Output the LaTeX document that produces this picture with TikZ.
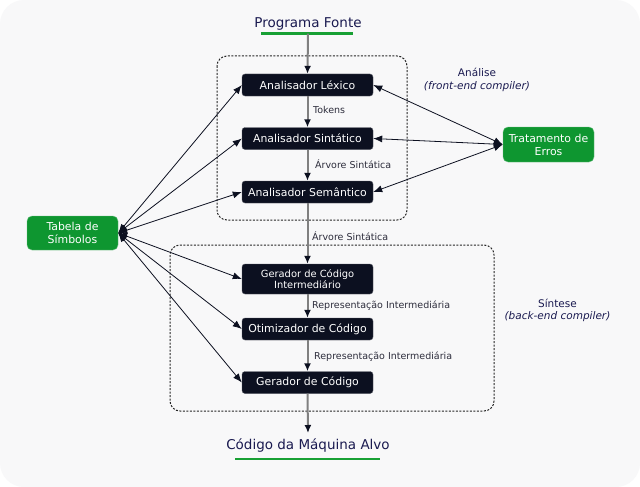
\documentclass[tikz,border=0pt]{standalone}
\usepackage{fontspec}
\setmainfont{DejaVu Sans}
\usetikzlibrary{arrows.meta}
\definecolor{boxdark}{RGB}{12,16,32}
\definecolor{grn}{RGB}{14,150,48}
\definecolor{ulgrn}{RGB}{24,160,52}
\definecolor{navy}{RGB}{26,26,80}
\definecolor{lblc}{RGB}{45,45,60}
\definecolor{bg}{RGB}{248,248,249}
\tikzset{
  stage/.style={fill=boxdark, draw=boxdark!70!white, line width=0.4pt, rounded corners=3pt, text=white,
    minimum width=131pt, minimum height=22pt, inner sep=0pt, font=\fontsize{10.9}{12}\selectfont, align=center},
  gbox/.style={fill=grn, draw=grn!60!white, line width=0.4pt, rounded corners=5pt, text=white,
    minimum width=91pt, minimum height=34pt, inner sep=0pt, font=\fontsize{10.9}{13}\selectfont, align=center},
  title/.style={text=navy, font=\fontsize{13.5}{15}\selectfont, inner xsep=0pt},
  lbl/.style={text=lblc, font=\fontsize{9.5}{11}\selectfont, inner sep=0pt, anchor=west},
  grp/.style={draw=black!85, line width=1pt, dash pattern=on 2pt off 1.5pt, rounded corners=10pt},
  varrow/.style={draw=black!50, line width=2pt, -{Latex[length=8pt,width=7pt,color=boxdark]}},
  link/.style={draw=boxdark, line width=0.8pt, {Latex[length=9pt,width=7pt]}-{Latex[length=9pt,width=7pt]}},
  ul/.style={draw=ulgrn, line width=2.6pt},
  side/.style={text=navy, font=\fontsize{10.5}{12.5}\selectfont, align=center}
}
\begin{document}
\begin{tikzpicture}[x=1pt,y=-1pt]
\useasboundingbox (0,0) rectangle (640,487);
\fill[white] (0,0) rectangle (640,487);
\fill[bg, rounded corners=24pt] (0,0) rectangle (640,487);

% groups
\draw[grp] (217,56) rectangle (407,220);
\draw[grp] (170,245) rectangle (494,411);

% nodes
\node[title, inner ysep=3pt] (pf) at (308,24) {Programa Fonte};
\node[stage] (lex) at (307.5,85) {Analisador Léxico};
\node[stage] (sin) at (307.5,138.5) {Analisador Sintático};
\node[stage] (sem) at (307.5,192) {Analisador Semântico};
\node[stage, minimum height=30pt, font=\fontsize{9.9}{11.5}\selectfont] (gci) at (307.5,279) {Gerador de Código\\Intermediário};
\node[stage] (oti) at (307.5,329) {Otimizador de Código};
\node[stage] (gc) at (307.5,382.5) {Gerador de Código};
\node[title, inner ysep=6pt] (cma) at (308,446) {Código da Máquina Alvo};
\node[gbox] (tab) at (72.5,233) {Tabela de\\Símbolos};
\node[gbox, minimum height=35pt] (err) at (548.5,144.5) {Tratamento de\\Erros};

% underlines
\draw[ul] ([xshift=7pt]pf.south west) -- ([xshift=-9pt]pf.south east);
\draw[ul] ([xshift=9pt]cma.south west) -- ([xshift=-10pt]cma.south east);

% side labels
\node[side] (ana) at (477,80) {Análise\\\textit{(front-end compiler)}};
\node[side] (sint) at (557.5,310.5) {Síntese\\\textit{(back-end compiler)}};

% main flow
\draw[varrow] (pf.south) -- (lex.north);
\draw[varrow] (lex.south) -- (sin.north);
\draw[varrow] (sin.south) -- (sem.north);
\draw[varrow] (sem.south) -- (gci.north);
\draw[varrow] (gci.south) -- (oti.north);
\draw[varrow] (oti.south) -- (gc.north);
\draw[varrow] (gc.south) -- (cma.north);

% flow labels
\node[lbl] (l1) at (313,110) {Tokens};
\node[lbl] (l2) at (315,164) {Árvore Sintática};
\node[lbl] (l3) at (312,236) {Árvore Sintática};
\node[lbl] (l4) at (312,306) {Representação Intermediária};
\node[lbl] (l5) at (314,357) {Representação Intermediária};

% symbol table links
\foreach \n in {lex,sin,sem,gci,oti,gc} {
  \draw[link] (tab.east) -- (\n.west);
}
% error handling links
\foreach \n in {lex,sin,sem} {
  \draw[link] (err.west) -- (\n.east);
}
\end{tikzpicture}
\end{document}
